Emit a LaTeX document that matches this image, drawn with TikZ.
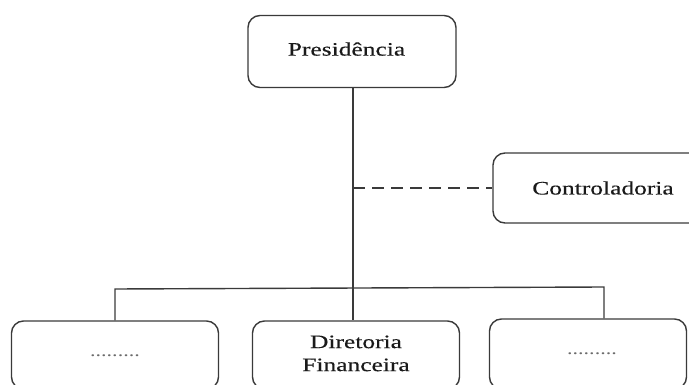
\documentclass[tikz,border=0pt]{standalone}
\usepackage{fontspec}
\setmainfont{Liberation Serif}
\newfontfamily\heavy{Liberation Serif}[FakeBold=0.3]
\definecolor{linec}{HTML}{3A3A3A}
\definecolor{textc}{HTML}{1A1A1A}
\definecolor{dotc}{HTML}{6A6A6A}
\newcommand\wide[1]{\scalebox{1.34}[1]{#1}}
\newcommand\dotrow{\textcolor{dotc}{\normalfont\fontsize{17}{20}\selectfont\scalebox{1.3}[1]{.........}}}
\begin{document}
\begin{tikzpicture}[x=1pt,y=-1pt,
  box/.style={draw=linec, line width=1.4pt, rounded corners=12pt, align=center,
    inner sep=0pt, text=textc, font=\heavy\fontsize{19}{23}\selectfont},
  conn/.style={draw=linec, line width=1.4pt}]
\useasboundingbox (0,0) rectangle (689,385);
\clip (0,0) rectangle (689,385);
\node[box, minimum width=208pt, minimum height=72pt] (pres) at (352,51.5) {\hspace*{-11pt}\raisebox{5pt}{\wide{Presidência}}};
\node[box, minimum width=210pt, minimum height=70pt] (ctrl) at (598,188) {\hspace*{10pt}\wide{Controladoria}};
\node[box, minimum width=207pt, minimum height=68pt] (left) at (115,355) {\raisebox{-4pt}{\dotrow}};
\node[box, minimum width=207pt, minimum height=68pt] (mid) at (356,355) {\raisebox{3pt}{\begin{tabular}{@{}c@{}}\wide{Diretoria}\\\wide{Financeira}\end{tabular}}};
\node[box, minimum width=197pt, minimum height=70pt] (right) at (588,354) {\hspace*{8pt}\raisebox{-1pt}{\dotrow}};
\coordinate (barL) at (115,289);
\coordinate (barR) at (604,287);
\draw[conn] (pres.south -| 353,0) -- (353,0 |- mid.north);
\draw[conn] (left.north -| barL) -- (barL) -- (barR) -- (barR |- right.north);
\draw[conn, dash pattern=on 12pt off 7pt] (353,0 |- ctrl.west) -- (ctrl.west);
\end{tikzpicture}
\end{document}
